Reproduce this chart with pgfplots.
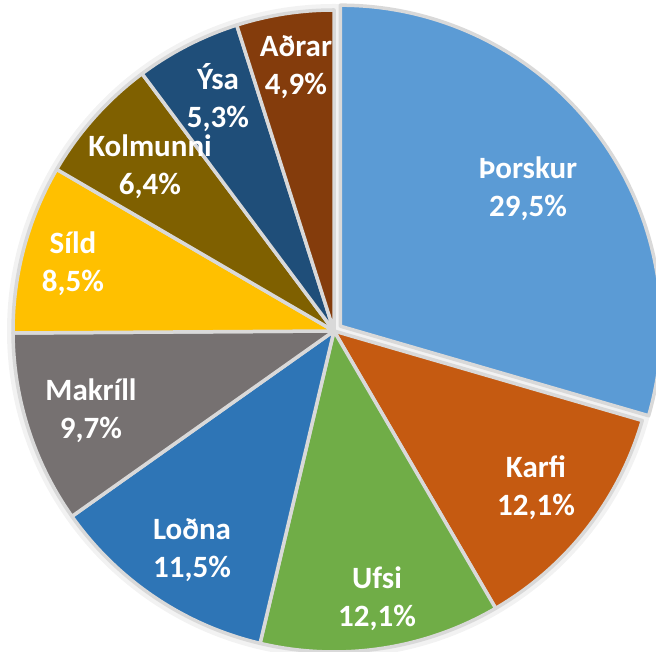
\documentclass[border=0pt]{standalone}
\usepackage{pgfplots}
\pgfplotsset{compat=1.18}
\usepackage{pgfplotstable}
\usepackage{fontspec}
\setmainfont{Carlito}
\definecolor{c1}{HTML}{5B9BD5}
\definecolor{c2}{HTML}{C55A11}
\definecolor{c3}{HTML}{70AD47}
\definecolor{c4}{HTML}{2E75B6}
\definecolor{c5}{HTML}{767171}
\definecolor{c6}{HTML}{FFC000}
\definecolor{c7}{HTML}{7F6000}
\definecolor{c8}{HTML}{1F4E79}
\definecolor{c9}{HTML}{843C0C}
\definecolor{sep}{HTML}{D9D9D9}
\pgfplotstableread[col sep=comma]{
name,value,col,lx,ly,ex
Þorskur,29.5,c1,528,463,8
Karfi,12.1,c2,536,164,0
Ufsi,12.1,c3,377,53,0
Loðna,11.5,c4,192,102,0
Makríll,9.7,c5,91,241,0
Síld,8.5,c6,73,388,0
Kolmunni,6.4,c7,150,485,0
Ýsa,5.3,c8,218,554,0
Aðrar,4.9,c9,296,585,0
}\piedata
\begin{document}
\begin{tikzpicture}
\begin{axis}[hide axis, x=1pt, y=1pt, xmin=0, xmax=656, ymin=0, ymax=652, clip=true]
\addplot[draw=none] coordinates {(0,0) (656,652)};
\fill[gray!10] (axis cs:334,321) circle[radius=327pt];
\pgfplotstablegetrowsof{\piedata}
\pgfmathtruncatemacro\N{\pgfplotsretval-1}
\def\astart{90}
\pgfplotsforeachungrouped \i in {0,...,\N}{%
  \pgfplotstablegetelem{\i}{value}\of\piedata \let\v\pgfplotsretval
  \pgfplotstablegetelem{\i}{col}\of\piedata \let\c\pgfplotsretval
  \pgfplotstablegetelem{\i}{ex}\of\piedata \let\ex\pgfplotsretval
  \pgfmathsetmacro\aend{\astart-3.6*\v}%
  \pgfmathsetmacro\amid{(\astart+\aend)/2}%
  \pgfmathsetmacro\cx{334+\ex*cos(\amid)}%
  \pgfmathsetmacro\cy{321+\ex*sin(\amid)}%
  \pgfmathsetmacro\px{\cx+321*cos(\astart)}%
  \pgfmathsetmacro\py{\cy+321*sin(\astart)}%
  \edef\cmd{\noexpand\fill[fill=\c, draw=sep, line width=3.5pt, line join=round] (axis cs:\cx,\cy) -- (axis cs:\px,\py) arc[start angle=\astart, end angle=\aend, radius=321pt] -- cycle;}%
  \cmd
  \global\let\astart\aend
}
\pgfplotsforeachungrouped \i in {0,...,\N}{%
  \pgfplotstablegetelem{\i}{value}\of\piedata \let\v\pgfplotsretval
  \pgfplotstablegetelem{\i}{name}\of\piedata \let\nm\pgfplotsretval
  \pgfplotstablegetelem{\i}{lx}\of\piedata \let\lx\pgfplotsretval
  \pgfplotstablegetelem{\i}{ly}\of\piedata \let\ly\pgfplotsretval
  \edef\cmd{\noexpand\node[text=white, align=center, font=\noexpand\fontsize{31}{38}\noexpand\selectfont\noexpand\bfseries] at (axis cs:\lx,\ly) {\nm\noexpand\\\noexpand\pgfmathprintnumber[use comma,fixed,fixed zerofill,precision=1,assume math mode=true]{\v}\noexpand\%};}%
  \cmd
}
\end{axis}
\end{tikzpicture}
\end{document}
